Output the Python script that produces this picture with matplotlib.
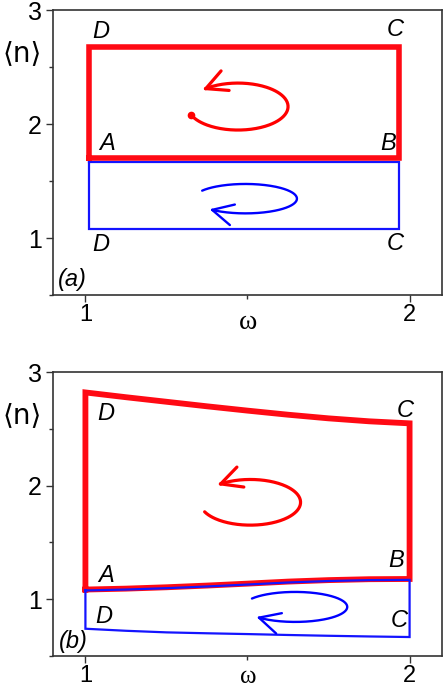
import numpy as np
import matplotlib
matplotlib.use('Agg')
import matplotlib.pyplot as plt
from matplotlib.ticker import MultipleLocator

# ---------------- data ----------------
# panel (a): rectangular cycles (omega, <n>)
a_red_x = [1.01, 1.967, 1.967, 1.01, 1.01]
a_red_y = [1.699, 1.699, 2.678, 2.678, 1.699]
a_blue_x = [1.01, 1.967, 1.967, 1.01, 1.01]
a_blue_y = [1.664, 1.664, 1.079, 1.079, 1.664]

# panel (b): curved cycles
b_omega = [1.0, 1.125, 1.25, 1.375, 1.5, 1.625, 1.75, 1.875, 2.0]
b_red_top = [2.82, 2.778, 2.738, 2.698, 2.66, 2.624, 2.592, 2.566, 2.548]
b_red_bot = [1.085, 1.093, 1.105, 1.12, 1.137, 1.155, 1.168, 1.176, 1.178]
b_blue_top = [1.077, 1.085, 1.097, 1.112, 1.129, 1.147, 1.160, 1.168, 1.170]
b_blue_bot = [0.74, 0.722, 0.708, 0.70, 0.693, 0.685, 0.678, 0.672, 0.667]

# corner labels
corner_labels = ['D', 'C', 'A', 'B', 'D', 'C']
a_label_x = [1.048, 1.957, 1.066, 1.933, 1.048, 1.957]
a_label_y = [2.81, 2.825, 1.825, 1.825, 0.94, 0.953]
b_label_x = [1.0625, 1.986, 1.065, 1.96, 1.058, 1.968]
b_label_y = [2.636, 2.665, 1.211, 1.344, 0.844, 0.815]
panel_tags = ['(a)', '(b)']

x_ticks = [1, 2]
y_ticks = [1, 2, 3]

# circulation arrows: centre x, centre y, half-width, half-height, start angle, end angle
a_loops = [(1.4706, 2.153, 0.1545, 0.206, 201, 495, 'red', 2.3, True),
           (1.4935, 1.345, 0.159, 0.129, 147, -134, 'blue', 1.7, False)]
b_loops = [(1.5087, 1.853, 0.155, 0.201, 204.6, 491, 'red', 2.3, False),
           (1.647, 0.932, 0.1607, 0.132, 146, -138, 'blue', 1.7, False)]

RED = '#ff0a14'
BLUE = '#1414ff'
SANS = ['Liberation Sans', 'DejaVu Sans']

fig = plt.figure(figsize=(4.43, 6.88), dpi=100)
ax_a = fig.add_axes([53/443, (688-295)/688, 389/443, 285/688])
ax_b = fig.add_axes([53/443, (688-656)/688, 389/443, 284/688])


def style(ax, omega_y, omega_size):
    ax.set_xlim(0.9, 2.1)
    ax.set_ylim(0.5, 3.0)
    ax.set_xticks(x_ticks)
    ax.set_yticks(y_ticks)
    ax.xaxis.set_minor_locator(MultipleLocator(0.5))
    ax.yaxis.set_minor_locator(MultipleLocator(0.5))
    ax.tick_params(which='both', direction='out', color='#333333', width=1.0,
                   top=False, right=False)
    ax.tick_params(which='major', length=5, pad=3, labelsize=18)
    ax.tick_params(axis='x', which='major', pad=1.5, labelsize=17)
    ax.tick_params(which='minor', length=3)
    for lab in ax.get_xticklabels() + ax.get_yticklabels():
        lab.set_fontfamily(SANS)
    for s in ax.spines.values():
        s.set_color('#333333')
        s.set_linewidth(1.2)
    ax.text(-0.079, 0.849, '\u27e8n\u27e9', transform=ax.transAxes, fontsize=20,
            family=['DejaVu Sans'], ha='center', va='center')
    ax.text(0.501, omega_y, '\u03c9', transform=ax.transAxes, fontsize=omega_size,
            family=['Liberation Serif', 'DejaVu Serif'], ha='center', va='center')


def loop(ax, cx, cy, a, b, t0, t1, color, lw, dot):
    t = np.radians(np.linspace(t0, t1, 200))
    x = cx + a * np.cos(t)
    y = cy + b * np.sin(t)
    ax.plot(x[:-3], y[:-3], color=color, lw=lw, solid_capstyle='round', zorder=4)
    ax.annotate('', xy=(x[-1], y[-1]), xytext=(x[-6], y[-6]),
                arrowprops=dict(arrowstyle='->,head_length=0.75,head_width=0.38',
                                color=color, lw=lw, shrinkA=0, shrinkB=0,
                                mutation_scale=20), zorder=4)
    if dot:
        ax.plot(x[0], y[0], 'o', color=color, ms=4.5, zorder=4)


style(ax_a, -0.096, 20)
style(ax_b, -0.074, 18)

# panel (a)
ax_a.plot(a_red_x, a_red_y, color=RED, lw=4.0, solid_joinstyle='miter', zorder=3)
ax_a.plot(a_blue_x, a_blue_y, color=BLUE, lw=1.6, solid_joinstyle='miter', zorder=2)
for spec in a_loops:
    loop(ax_a, *spec)
for s, x, y in zip(corner_labels, a_label_x, a_label_y):
    ax_a.text(x, y, s, fontsize=17, style='italic', family=SANS, ha='center', va='center')
ax_a.text(0.96, 0.632, panel_tags[0], fontsize=17, style='italic', family=SANS,
          ha='center', va='center')

# panel (b)
om = np.array(b_omega)
red_x = np.concatenate([om, [om[-1]], om[::-1], [om[0]]])
red_y = np.concatenate([b_red_bot, [b_red_top[-1]], b_red_top[::-1], [b_red_bot[0]]])
ax_b.plot(red_x, red_y, color=RED, lw=4.2, solid_joinstyle='miter', zorder=3)
blue_x = np.concatenate([om, [om[-1]], om[::-1], [om[0]]])
blue_y = np.concatenate([b_blue_top, [b_blue_bot[-1]], b_blue_bot[::-1], [b_blue_top[0]]])
ax_b.plot(blue_x, blue_y, color=BLUE, lw=1.6, solid_joinstyle='miter', zorder=3.5)
for spec in b_loops:
    loop(ax_b, *spec)
for s, x, y in zip(corner_labels, b_label_x, b_label_y):
    ax_b.text(x, y, s, fontsize=17, style='italic', family=SANS, ha='center', va='center')
ax_b.text(0.962, 0.624, panel_tags[1], fontsize=17, style='italic', family=SANS,
          ha='center', va='center')

fig.savefig('out.png', dpi=100)
